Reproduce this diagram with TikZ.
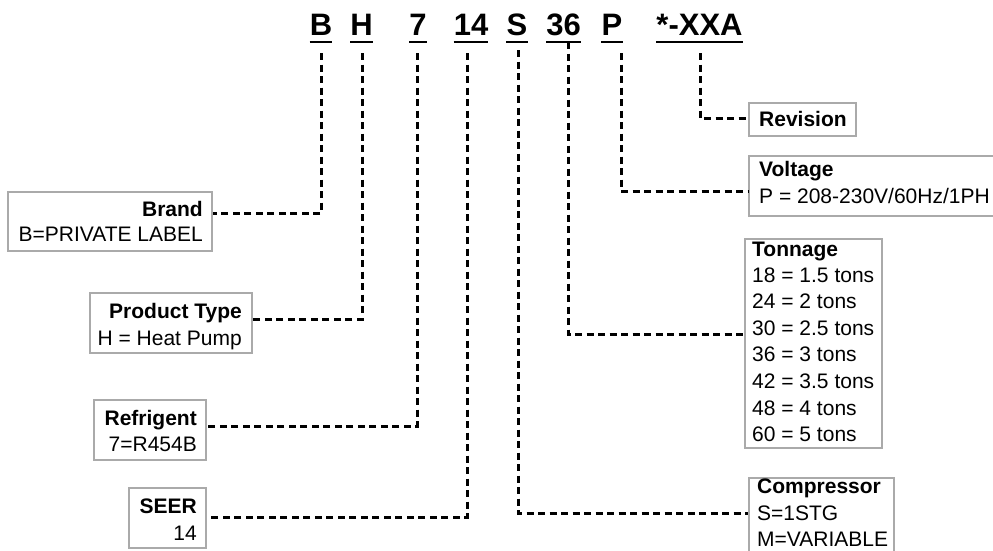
\documentclass[tikz,border=0pt]{standalone}
\usepackage{fontspec}
\setmainfont{Liberation Sans}
\definecolor{boxgray}{RGB}{170,170,170}
\begin{document}
\begin{tikzpicture}[x=1pt,y=-1pt,
  hdr/.style={font=\fontsize{31}{37}\selectfont\bfseries, inner sep=0pt, anchor=base},
  box/.style={draw=boxgray, line width=1.2pt, inner sep=0pt},
  lbl/.style={font=\fontsize{21}{25}\selectfont\bfseries, inner sep=0pt},
  val/.style={font=\fontsize{21}{25}\selectfont, inner sep=0pt},
  conn/.style={draw=black, line width=3pt, dash pattern=on 7pt off 4.5pt},
  uline/.style={line width=2.7pt}
]
\fill[white] (0,0) rectangle (993,550);
\useasboundingbox (0,0) rectangle (993,550);

% header code letters
\node[hdr] (lB) at (321,35) {B};
\node[hdr] (lH) at (361.5,35) {H};
\node[hdr] (l7) at (418,35) {7};
\node[hdr] (l14) at (471,35) {14};
\node[hdr] (lS) at (517,35) {S};
\node[hdr] (l36) at (563.5,35) {36};
\node[hdr] (lP) at (612,35) {P};
\node[hdr] (lX) at (699.5,35) {*-XXA};
\foreach \n in {lB,lH,l7,l14,lS,l36,lP,lX}
  \draw[uline] ([yshift=-7pt]\n.base west) -- ([yshift=-7pt]\n.base east);

% boxes
\node[box, minimum width=204pt, minimum height=59pt] (brand) at (110,221.5) {};
\node[box, minimum width=162pt, minimum height=60pt] (ptype) at (171,323) {};
\node[box, minimum width=112pt, minimum height=60pt] (refr) at (150,430) {};
\node[box, minimum width=77pt, minimum height=60pt] (seer) at (167.5,518) {};
\node[box, minimum width=107pt, minimum height=33pt] (rev) at (802.5,119.5) {};
\node[box, minimum width=261pt, minimum height=60pt] (volt) at (879.5,186) {};
\node[box, minimum width=137pt, minimum height=209pt] (ton) at (813.5,343.5) {};
\node[box, minimum width=145pt, minimum height=87pt] (comp) at (821.5,521.5) {};

% box texts
\node[lbl, anchor=base east] (brandL) at (203,216) {Brand};
\node[val, anchor=base east] (brandV) at (203,241) {B=PRIVATE LABEL};
\node[lbl, anchor=base east] (ptypeL) at (242,318) {Product Type};
\node[val, anchor=base east] (ptypeV) at (242,345) {H = Heat Pump};
\node[lbl, anchor=base east] (refrL) at (197,425) {Refrigent};
\node[val, anchor=base east] (refrV) at (197,451) {7=R454B};
\node[lbl, anchor=base east] (seerL) at (197,513) {SEER};
\node[val, anchor=base east] (seerV) at (197,540) {14};
\node[lbl, anchor=base west] (revL) at (759,126) {Revision};
\node[lbl, anchor=base west] (voltL) at (759,176) {Voltage};
\node[val, anchor=base west] (voltV) at (759,203) {P = 208-230V/60Hz/1PH};
\node[lbl, anchor=base west] (tonL) at (752,256) {Tonnage};
\node[val, anchor=base west] (tonA) at (752,282) {18 = 1.5 tons};
\node[val, anchor=base west] (tonB) at (752,308) {24 = 2 tons};
\node[val, anchor=base west] (tonC) at (752,335) {30 = 2.5 tons};
\node[val, anchor=base west] (tonD) at (752,361) {36 = 3 tons};
\node[val, anchor=base west] (tonE) at (752,388) {42 = 3.5 tons};
\node[val, anchor=base west] (tonF) at (752,415) {48 = 4 tons};
\node[val, anchor=base west] (tonG) at (752,441) {60 = 5 tons};
\node[lbl, anchor=base west] (compL) at (757,493) {Compressor};
\node[val, anchor=base west] (compA) at (757,520) {S=1STG};
\node[val, anchor=base west] (compB) at (757,546) {M=VARIABLE};

% connector start points
\coordinate (tB) at (321,53);
\coordinate (tH) at (362,53);
\coordinate (t7) at (417,53);
\coordinate (t14) at (467,53);
\coordinate (tS) at (518,50);
\coordinate (t36) at (568,42);
\coordinate (tP) at (621,53);
\coordinate (tX) at (700,53);

% connectors
\draw[conn] (tB) |- ([yshift=8.5pt]brand.east);
\draw[conn] (tH) |- ([yshift=4pt]ptype.east);
\draw[conn] (t7) |- ([yshift=4pt]refr.east);
\draw[conn] (t14) |- ([yshift=1pt]seer.east);
\draw[conn] (tS) |- ([yshift=8.5pt]comp.west);
\draw[conn] (t36) |- ([yshift=9.5pt]ton.west);
\draw[conn] (tP) |- ([yshift=-5pt]volt.west);
\draw[conn] (tX) |- ([yshift=1.5pt]rev.west);
\end{tikzpicture}
\end{document}
